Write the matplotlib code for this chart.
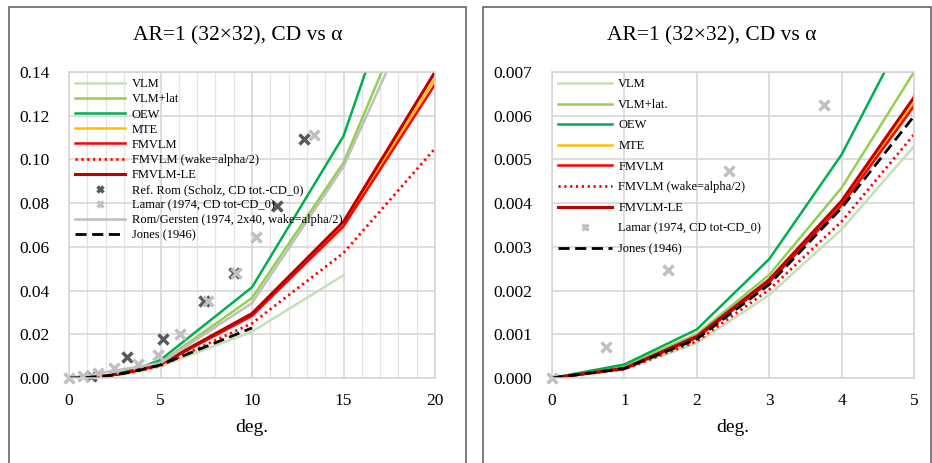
import matplotlib
matplotlib.use("Agg")
import matplotlib.pyplot as plt
from matplotlib.patches import Rectangle
from matplotlib.ticker import MultipleLocator, FormatStrFormatter
import numpy as np

plt.rcParams['font.family'] = ['Liberation Serif', 'DejaVu Serif']

# angle of attack (deg) for the computed curves
alpha = [0, 1, 2, 3, 4, 5, 10, 15, 20]

cd_vlm = [0, 0.0002, 0.0008, 0.0019, 0.0034, 0.0053, 0.0212, 0.047]
cd_vlm_lat = [0, 0.00028, 0.0010, 0.00236, 0.00435, 0.0070, 0.0366, 0.0985, 0.198]
cd_oew = [0, 0.00031, 0.00111, 0.00272, 0.00511, 0.0083, 0.0415, 0.1107, 0.232]
cd_mte = [0, 0.00022, 0.00093, 0.0022, 0.0040, 0.00629, 0.0290, 0.0703, 0.137]
cd_fmvlm = [0, 0.00021, 0.00092, 0.00219, 0.00395, 0.00622, 0.0284, 0.0694, 0.1343]
cd_fmvlm_wake = [0, 0.0002, 0.00084, 0.00202, 0.00358, 0.00557, 0.0250, 0.0572, 0.105]
cd_fmvlm_le = [0, 0.00022, 0.00095, 0.00225, 0.00405, 0.00642, 0.0295, 0.0715, 0.140]
cd_jones = [0, 0.00022, 0.00089, 0.00214, 0.00389, 0.00599, 0.0229]

alpha_rg = [0, 5, 10, 15, 20]
cd_rg = [0, 0.0068, 0.0343, 0.0967, 0.189]

# experimental / reference points
alpha_rom = [1.2, 3.15, 5.15, 7.4, 9.0, 11.35, 12.85]
cd_rom = [0.0007, 0.0097, 0.0177, 0.0352, 0.0480, 0.0787, 0.1093]
alpha_lamar = [0, 0.75, 1.6, 2.45, 3.75, 4.85, 6.05, 7.6, 9.1, 10.2, 13.4]
cd_lamar = [0, 0.0007, 0.00246, 0.00474, 0.00625, 0.0103, 0.0200, 0.0352, 0.0482, 0.0646, 0.1112]

title = "AR=1 (32\u00d732), CD vs \u03b1"

W, H = 932, 463
fig = plt.figure(figsize=(W / 100, H / 100), dpi=100)

# chart frames (Excel style)
for x0, x1 in [(9, 466), (483, 931)]:
    fig.patches.append(Rectangle((x0 / W, -0.1), (x1 - x0) / W, 1.1 - 7 / H,
                                 transform=fig.transFigure, fill=False,
                                 edgecolor='#595959', lw=1.1, clip_on=False))

ax1 = fig.add_axes([69 / W, 85 / H, 366 / W, 306 / H])
ax2 = fig.add_axes([552 / W, 85 / H, 362 / W, 306 / H])


def draw(ax, xmax, with_rom):
    n = len(cd_vlm)
    ax.plot(alpha[:n], cd_vlm, color='#c5e0b4', lw=1.8, label='VLM')
    ax.plot(alpha, cd_vlm_lat, color='#92d050', lw=1.8, label='VLM+lat.' if not with_rom else 'VLM+lat')
    ax.plot(alpha, cd_oew, color='#00b050', lw=1.8, label='OEW')
    ax.plot(alpha, cd_mte, color='#ffc000', lw=1.8, label='MTE')
    ax.plot(alpha, cd_fmvlm, color='#ff0000', lw=1.8, label='FMVLM')
    ax.plot(alpha, cd_fmvlm_wake, color='#ff0000', lw=2.0, ls=(0, (0.8, 1.3)),
            label='FMVLM (wake=alpha/2)')
    ax.plot(alpha, cd_fmvlm_le, color='#c00000', lw=2.2, label='FMVLM-LE')
    handles = list(ax.get_lines())
    if with_rom:
        ar = np.array(alpha_rom)
        m = ar <= xmax
        ax.plot(ar[m], np.array(cd_rom)[m], ls='none', marker='x', ms=6.5, mew=2.5,
                color='#595959', clip_on=False, label='Ref. Rom (Scholz, CD tot.-CD_0)')
        handles.append(ax.get_lines()[-1])
    al = np.array(alpha_lamar)
    m = al <= xmax
    ax.plot(al[m], np.array(cd_lamar)[m], ls='none', marker='x', ms=6.5, mew=2.5,
            color='#c0c0c0', clip_on=False, label='Lamar (1974, CD tot-CD_0)')
    handles.append(ax.get_lines()[-1])
    if with_rom:
        ax.plot(alpha_rg, cd_rg, color='#bfbfbf', lw=1.8,
                label='Rom/Gersten (1974, 2x40, wake=alpha/2)')
        handles.append(ax.get_lines()[-1])
    nj = len(cd_jones)
    ax.plot(alpha[:nj], cd_jones, color='black', lw=2.0, ls=(0, (4, 2)), label='Jones (1946)')
    handles.append(ax.get_lines()[-1])
    return handles


h1 = draw(ax1, 20, True)
h2 = draw(ax2, 5, False)

for ax, xmax, ymax, xmaj, ymaj, fmt in [(ax1, 20, 0.14, 5, 0.02, '%.2f'),
                                          (ax2, 5, 0.007, 1, 0.001, '%.3f')]:
    ax.set_xlim(0, xmax)
    ax.set_ylim(0, ymax)
    ax.xaxis.set_major_locator(MultipleLocator(xmaj))
    ax.yaxis.set_major_locator(MultipleLocator(ymaj))
    ax.yaxis.set_major_formatter(FormatStrFormatter(fmt))
    ax.grid(True, which='major', color='#d4d4d4', lw=1.1)
    ax.set_axisbelow(True)
    for s in ax.spines.values():
        s.set_color('#d4d4d4')
        s.set_linewidth(1.1)
    ax.tick_params(length=0, labelsize=12.5, pad=11)
    ax.tick_params(axis='y', pad=14)
    ax.set_xlabel('deg.', fontsize=14, labelpad=7)

ax1.xaxis.set_minor_locator(MultipleLocator(1))
ax1.grid(True, which='minor', axis='x', color='#e4e4e4', lw=0.9)
ax1.tick_params(which='minor', length=0)

ax1.legend(handles=h1, loc='upper left', bbox_to_anchor=(0.0, 1.0), frameon=False,
           fontsize=9, labelspacing=0.25, handlelength=4.0, handletextpad=0.5,
           borderaxespad=0.3, borderpad=0.2, numpoints=1, markerscale=0.6)
ax2.legend(handles=h2, loc='upper left', bbox_to_anchor=(0.0, 1.0), frameon=False,
           fontsize=9, labelspacing=0.69, handlelength=4.3, handletextpad=0.5,
           borderaxespad=0.3, borderpad=0.2, numpoints=1, markerscale=0.6)

fig.text(238 / W, 1 - 36 / H, title, ha='center', va='center', fontsize=15.5)
fig.text(712 / W, 1 - 36 / H, title, ha='center', va='center', fontsize=15.5)

fig.savefig('out.png', dpi=100)
